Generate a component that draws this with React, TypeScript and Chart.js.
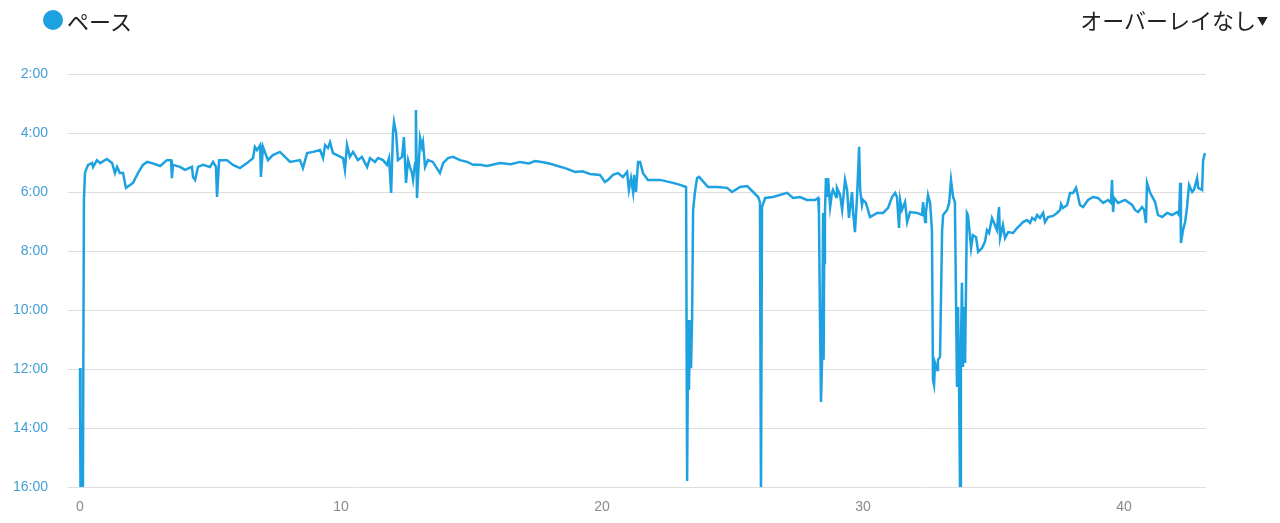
import React, { useEffect, useRef } from "react";
import { Chart, registerables } from "chart.js";

Chart.register(...registerables);

const seriesLabel = "ペース";
const overlayLabel = "オーバーレイなし";
const xTickValues = [0, 10, 20, 30, 40];
const yTickValues = [2, 4, 6, 8, 10, 12, 14, 16];

// distance (km)
const distanceKm = [
  0.0, 0.01, 0.03, 0.06, 0.11, 0.15, 0.19, 0.23, 0.31, 0.46, 0.5, 0.65, 0.77, 1.03, 1.23, 1.34, 1.42, 1.53, 1.65, 1.76,
  1.92, 2.03, 2.22, 2.41, 2.57, 2.76, 3.07, 3.33, 3.49, 3.52, 3.56, 3.83, 4.02, 4.29, 4.33, 4.41, 4.52, 4.71, 4.98, 5.1,
  5.21, 5.25, 5.33, 5.63, 5.86, 6.13, 6.4, 6.63, 6.7, 6.78, 6.9, 6.93, 7.01, 7.2, 7.39, 7.66, 8.05, 8.43, 8.54, 8.7,
  8.93, 9.2, 9.31, 9.39, 9.5, 9.58, 9.69, 10.08, 10.15, 10.23, 10.34, 10.46, 10.65, 10.8, 11.0, 11.11, 11.3, 11.42, 11.61, 11.76,
  11.84, 11.92, 11.99, 12.03, 12.11, 12.18, 12.34, 12.41, 12.49, 12.57, 12.64, 12.72, 12.76, 12.84, 12.87, 12.91, 13.03, 13.1, 13.14, 13.22,
  13.33, 13.52, 13.79, 13.91, 14.1, 14.29, 14.56, 14.83, 15.06, 15.33, 15.59, 16.09, 16.5, 16.86, 17.2, 17.43, 17.75, 18.01, 18.3, 18.58,
  18.97, 19.25, 19.54, 19.92, 20.11,
  20.23, 20.42, 20.61, 20.8, 20.96, 21.03, 21.11, 21.19, 21.23, 21.3, 21.38, 21.46, 21.57, 21.76, 22.22, 22.72, 22.99, 23.22, 23.26, 23.3,
  23.33, 23.37, 23.41, 23.45, 23.49, 23.56, 23.64, 23.72, 24.06, 24.41, 24.79, 24.98, 25.29, 25.56, 25.79, 25.98, 26.05, 26.09, 26.13, 26.25,
  26.55, 27.09, 27.32, 27.59, 27.85, 28.16, 28.28, 28.31, 28.35, 28.39, 28.43, 28.47, 28.49, 28.51, 28.54, 28.58, 28.62, 28.66, 28.74, 28.81,
  28.85, 28.97, 29.0, 29.12, 29.2, 29.31, 29.39, 29.46, 29.58, 29.62, 29.69, 29.77, 29.85, 29.89, 29.96, 30.0, 30.11, 30.27, 30.54, 30.77,
  30.96, 31.11, 31.23, 31.3, 31.38, 31.42, 31.49, 31.61, 31.69, 31.8, 32.07, 32.26, 32.3, 32.38, 32.41, 32.49, 32.57, 32.64, 32.68, 32.72,
  32.76, 32.84, 32.87, 32.95, 33.03, 33.07, 33.22, 33.3, 33.37, 33.45, 33.52, 33.6, 33.64, 33.68, 33.72, 33.75, 33.79, 33.83, 33.87, 33.91,
  33.98, 34.02, 34.14, 34.21, 34.33, 34.41, 34.56, 34.67, 34.75, 34.83, 34.94, 35.02, 35.13, 35.21, 35.25, 35.36, 35.44, 35.56, 35.75, 35.9,
  36.02, 36.13, 36.28, 36.4, 36.48, 36.59, 36.67, 36.78, 36.9, 36.97, 37.09, 37.28, 37.43, 37.55, 37.59, 37.66, 37.82, 37.93, 38.05, 38.16,
  38.2, 38.31, 38.43, 38.62, 38.81, 39.0, 39.2, 39.39, 39.5, 39.54, 39.58, 39.62, 39.77, 40.04, 40.31, 40.42, 40.54, 40.69, 40.77, 40.84,
  40.88, 41.0, 41.19, 41.3, 41.46, 41.65, 41.84, 42.03, 42.11, 42.15, 42.18, 42.26, 42.34, 42.41, 42.49, 42.61, 42.68, 42.8, 42.84, 42.99,
  43.03, 43.1,
];

// pace (minutes per km)
const paceMin = [
  11.97, 16.5, 13.56, 16.5, 16.5, 6.27, 5.36, 5.25, 5.08, 5.02, 5.15, 4.92, 5.02, 4.88, 5.02, 5.36, 5.15, 5.36, 5.36, 5.86,
  5.76, 5.69, 5.36, 5.08, 4.98, 5.02, 5.12, 4.92, 4.92, 5.53, 5.08, 5.15, 5.25, 5.15, 5.49, 5.59, 5.15, 5.08, 5.15, 4.98,
  5.15, 6.17, 4.92, 4.92, 5.08, 5.19, 5.02, 4.85, 4.47, 4.58, 4.41, 5.49, 4.47, 4.92, 4.75, 4.64, 4.98, 4.92, 5.19, 4.68,
  4.64, 4.58, 4.85, 4.41, 4.51, 4.31, 4.68, 4.85, 5.25, 4.41, 4.81, 4.64, 4.92, 4.81, 5.15, 4.85, 4.98, 4.85, 4.92, 5.08,
  4.85, 6.03, 4.0, 3.63, 4.0, 4.92, 4.81, 4.14, 5.69, 4.92, 5.15, 5.36, 5.59, 5.02, 3.22, 6.2, 4.17, 4.47, 4.31, 5.15,
  4.92, 4.98, 5.36, 5.02, 4.85, 4.81, 4.92, 4.98, 5.08, 5.08, 5.12, 5.02, 5.06, 4.98, 5.03, 4.95, 4.99, 5.04, 5.12, 5.19,
  5.32, 5.3, 5.39, 5.42, 5.66,
  5.59, 5.42, 5.36, 5.49, 5.32, 5.93, 5.53, 6.0, 5.42, 6.0, 4.98, 4.98, 5.36, 5.59, 5.59, 5.69, 5.76, 5.83, 15.8, 10.34,
  12.71, 10.34, 11.97, 10.34, 6.61, 6.0, 5.53, 5.49, 5.83, 5.83, 5.86, 6.0, 5.83, 5.8, 6.0, 6.17, 6.34, 16.5, 6.51, 6.2,
  6.17, 6.03, 6.2, 6.17, 6.27, 6.27, 6.2, 6.68, 10.24, 13.12, 11.69, 6.71, 11.69, 8.41, 6.71, 5.53, 6.17, 5.53, 6.51, 6.03,
  5.93, 6.17, 5.86, 6.1, 6.61, 5.59, 5.93, 6.88, 6.0, 6.68, 7.36, 6.17, 4.47, 5.93, 6.44, 6.27, 6.37, 6.85, 6.71, 6.71,
  6.54, 6.17, 6.03, 6.17, 7.22, 6.27, 6.61, 6.34, 7.02, 6.68, 6.71, 6.78, 6.34, 7.02, 6.68, 6.1, 6.37, 7.29, 12.37, 12.54,
  11.8, 12.03, 11.69, 11.59, 7.29, 6.78, 6.61, 6.37, 5.59, 6.17, 6.34, 12.61, 9.9, 12.61, 16.5, 11.25, 9.08, 11.93, 9.9, 11.8,
  6.71, 6.78, 7.9, 7.46, 7.53, 8.03, 7.9, 7.69, 7.29, 7.39, 6.88, 7.05, 7.29, 6.51, 7.56, 7.12, 7.56, 7.36, 7.39, 7.22,
  7.12, 7.02, 6.95, 7.05, 6.88, 6.95, 6.78, 6.88, 6.71, 7.02, 6.85, 6.81, 6.71, 6.61, 6.41, 6.54, 6.44, 6.03, 6.03, 5.86,
  6.0, 6.44, 6.51, 6.27, 6.17, 6.2, 6.37, 6.27, 6.37, 5.59, 6.68, 6.2, 6.37, 6.27, 6.44, 6.61, 6.68, 6.51, 6.61, 7.05,
  5.69, 6.03, 6.34, 6.78, 6.85, 6.71, 6.78, 6.68, 6.78, 5.69, 7.73, 7.29, 7.02, 6.54, 5.76, 6.0, 5.93, 5.53, 5.86, 5.93,
  4.92, 4.68,
];

const lineColor = "#1ea1e0";

export default function App() {
  const canvasRef = useRef<HTMLCanvasElement | null>(null);

  useEffect(() => {
    const canvas = canvasRef.current;
    if (!canvas) return;
    const points = distanceKm.map((d, i) => ({ x: d, y: paceMin[i] }));
    const chart = new Chart(canvas, {
      type: "line",
      data: {
        datasets: [
          {
            label: seriesLabel,
            data: points,
            borderColor: lineColor,
            backgroundColor: lineColor,
            borderWidth: 2.5,
            pointRadius: 0,
            tension: 0,
            fill: false,
          },
        ],
      },
      options: {
        animation: false,
        responsive: true,
        maintainAspectRatio: false,
        layout: { padding: { left: 0, right: 74, top: 74, bottom: 0 } },
        plugins: { legend: { display: false }, tooltip: { enabled: false } },
        scales: {
          x: {
            type: "linear",
            min: -0.46,
            max: 43.14,
            afterBuildTicks: (scale: any) => {
              scale.ticks = xTickValues.map((v) => ({ value: v }));
            },
            afterFit: (scale: any) => {
              scale.height = 36;
            },
            grid: { display: false, drawTicks: false },
            border: { display: false },
            ticks: {
              color: "#8a8a8a",
              padding: 12,
              maxRotation: 0,
              font: { family: "'Liberation Sans', Arial, sans-serif", size: 14 },
              callback: (v: any) => String(v),
            },
          },
          y: {
            type: "linear",
            reverse: true,
            min: 2,
            max: 16,
            afterBuildTicks: (scale: any) => {
              scale.ticks = yTickValues.map((v) => ({ value: v }));
            },
            afterFit: (scale: any) => {
              scale.width = 68;
            },
            grid: { color: "#dedede", lineWidth: 1, drawTicks: false },
            border: { display: false },
            ticks: {
              color: "#44a0d4",
              padding: 20,
              font: { family: "'Liberation Sans', Arial, sans-serif", size: 14 },
              callback: (v: any) => `${v}:00`,
            },
          },
        },
      },
    });
    return () => chart.destroy();
  }, []);

  return (
    <div
      style={{
        position: "fixed",
        left: 0,
        top: 0,
        width: 1280,
        height: 523,
        background: "#ffffff",
        fontFamily: "'Noto Sans CJK JP', 'Noto Sans', sans-serif",
      }}
    >
      <canvas ref={canvasRef} style={{ position: "absolute", left: 0, top: 0 }} />
      <div
        style={{
          position: "absolute",
          left: 43,
          top: 10,
          width: 20,
          height: 20,
          borderRadius: "50%",
          background: lineColor,
        }}
      />
      <div
        style={{
          position: "absolute",
          left: 67,
          top: 3,
          fontSize: 22,
          lineHeight: "34px",
          color: "#222",
          whiteSpace: "nowrap",
        }}
      >
        {seriesLabel}
      </div>
      <div
        style={{
          position: "absolute",
          right: 12,
          top: 2,
          fontSize: 22,
          lineHeight: "34px",
          color: "#222",
          whiteSpace: "nowrap",
        }}
      >
        {overlayLabel}
        <span style={{ fontSize: 11, marginLeft: 1, verticalAlign: "3px" }}>▼</span>
      </div>
    </div>
  );
}
